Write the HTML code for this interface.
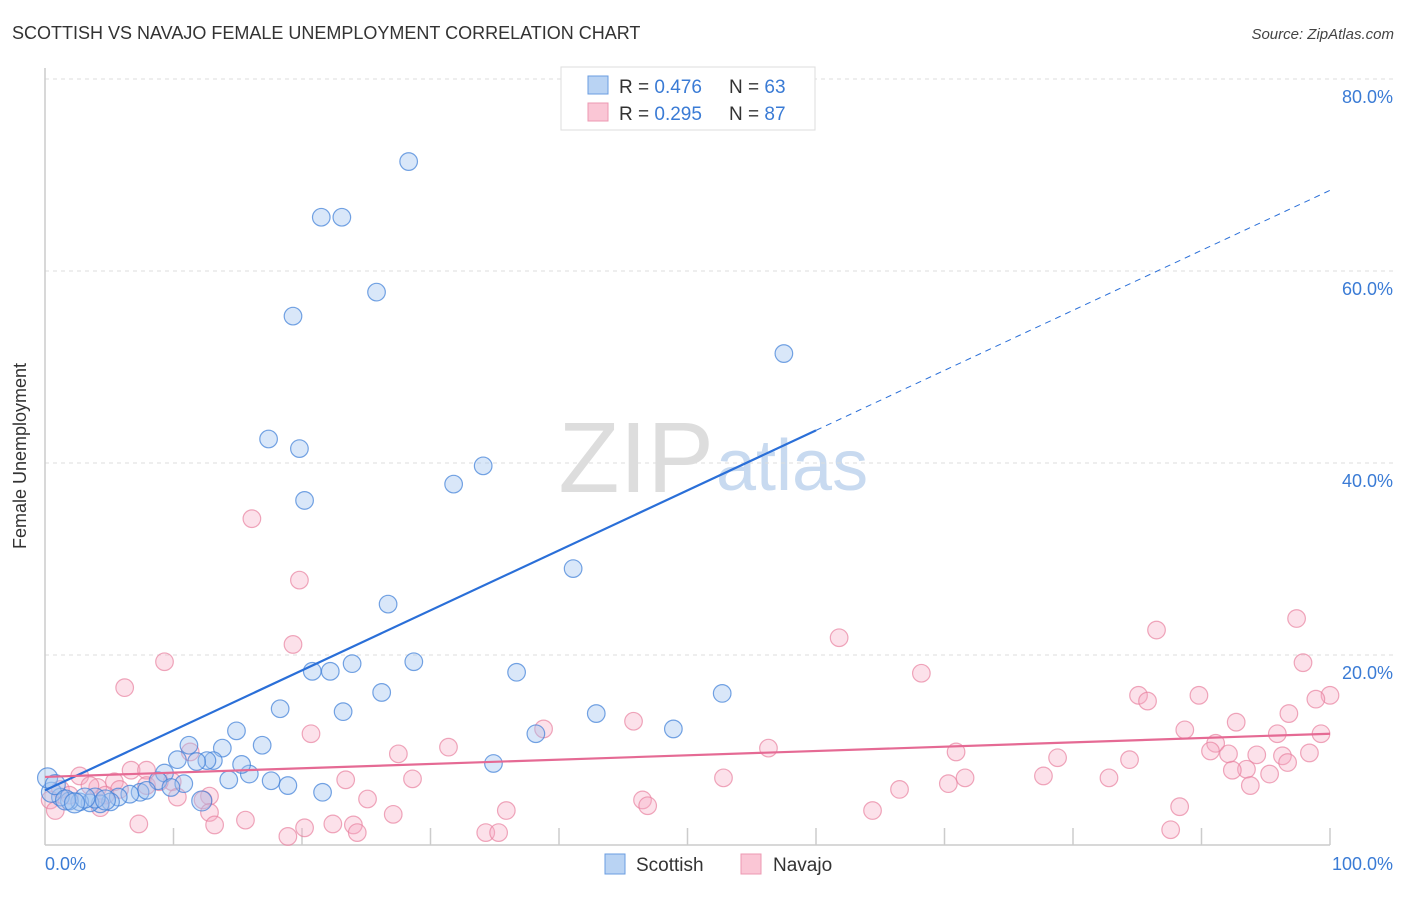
<!DOCTYPE html>
<html><head><meta charset="utf-8"><style>
body{margin:0;background:#fff;font-family:"Liberation Sans",sans-serif}
svg text{font-family:"Liberation Sans",sans-serif}
</style></head><body>
<svg width="1406" height="892" viewBox="0 0 1406 892">
<text x="12" y="39" font-size="18" fill="#333">SCOTTISH VS NAVAJO FEMALE UNEMPLOYMENT CORRELATION CHART</text>
<text x="1394" y="39" font-size="15" fill="#444" font-style="italic" text-anchor="end">Source: ZipAtlas.com</text>
<text x="714" y="492" font-size="100" fill="#ddd" text-anchor="end" font-family="Liberation Serif">ZIP</text>
<text x="716" y="490" font-size="72" fill="#c8daf0">atlas</text>
<g id="grid"></g>
<line x1="45" y1="68" x2="45" y2="845" stroke="#ccc" stroke-width="1.5"/>
<line x1="45" y1="845" x2="1330" y2="845" stroke="#ccc" stroke-width="1.5"/>
<g id="ticks"></g>
<text x="26" y="456" font-size="18" fill="#333" transform="rotate(-90 26 456)" text-anchor="middle">Female Unemployment</text>
<text x="45" y="870" font-size="18" fill="#3a7bd5">0.0%</text>
<text x="1393" y="870" font-size="18" fill="#3a7bd5" text-anchor="end">100.0%</text>
<g id="pts"></g>
<g id="lines"></g>
<g>
<rect x="561" y="67" width="254" height="63" fill="#fff" stroke="#ddd"/>
<rect x="588" y="76" width="20" height="18" fill="#b9d3f3" stroke="#6a9de0"/>
<rect x="588" y="103" width="20" height="18" fill="#fac6d5" stroke="#ec98b2"/>
<text x="619" y="93" font-size="19" fill="#333">R = <tspan fill="#3a7bd5">0.476</tspan></text>
<text x="729" y="93" font-size="19" fill="#333">N = <tspan fill="#3a7bd5">63</tspan></text>
<text x="619" y="120" font-size="19" fill="#333">R = <tspan fill="#3a7bd5">0.295</tspan></text>
<text x="729" y="120" font-size="19" fill="#333">N = <tspan fill="#3a7bd5">87</tspan></text>
</g>
<g>
<rect x="605" y="854" width="20" height="20" fill="#b9d3f3" stroke="#6a9de0"/>
<text x="636" y="871" font-size="19" fill="#333">Scottish</text>
<rect x="741" y="854" width="20" height="20" fill="#fac6d5" stroke="#ec98b2"/>
<text x="773" y="871" font-size="19" fill="#333">Navajo</text>
</g>
</svg>
<script>
const yTicks=[20,40,60,80];
const xTicks=[10,20,30,40,50,60,70,80,90,100];
const scotX=[28.3,21.5,23.1,25.8,19.3,57.5,17.4,19.8,34.1,31.8,20.2,41.1,26.7,28.7,23.9,20.8,22.2,36.7,26.2,52.7,18.3,23.2,42.9,14.9,48.9,38.2,16.9,11.2,13.8,10.3,13.1,12.6,11.8,34.9,9.3,15.9,15.3,14.3,17.6,18.9,10.8,8.8,9.8,21.6,7.4,7.9,6.6,5.7,5.1,4.3,3.5,2.7,1.9,1.2,0.5,0.2,0.8,12.2,3.9,3.1,1.6,2.3,4.7];
const scotY=[71.4,65.6,65.6,57.8,55.3,51.4,42.5,41.5,39.7,37.8,36.1,29.0,25.3,19.3,19.1,18.3,18.3,18.2,16.1,16.0,14.4,14.1,13.9,12.1,12.3,11.8,10.6,10.6,10.3,9.1,9.0,9.0,8.9,8.7,7.7,7.6,8.6,7.0,6.9,6.4,6.6,6.9,6.2,5.7,5.7,5.9,5.5,5.2,4.7,4.5,4.6,4.7,4.8,5.2,5.7,7.2,6.5,4.8,5.1,5.1,4.9,4.6,4.9];
const navX=[16.1,19.8,9.3,19.3,6.2,61.8,97.4,86.5,97.9,68.2,85.1,85.8,89.8,100,98.9,38.8,45.8,20.7,88.7,92.7,96.8,95.9,99.3,56.3,31.4,27.5,78.8,70.9,91.1,90.7,92.1,94.3,98.4,96.3,84.4,93.5,92.4,95.3,77.7,82.8,71.6,52.8,23.4,28.6,70.3,93.8,96.7,66.5,11.3,6.7,7.9,2.7,9.9,5.4,7.9,8.9,12.8,10.3,4.1,3.5,12.3,25.1,46.5,46.9,35.9,88.3,64.4,12.8,27.1,15.6,7.3,13.2,24.0,20.2,22.4,34.3,35.3,18.9,24.3,87.6,1.2,0.4,1.9,5.8,4.7,0.8,4.3];
const navY=[34.2,27.8,19.3,21.1,16.6,21.8,23.8,22.6,19.2,18.1,15.8,15.2,15.8,15.8,15.4,12.3,13.1,11.8,12.2,13.0,13.9,11.8,11.8,10.3,10.4,9.7,9.3,9.9,10.8,10.0,9.7,9.6,9.8,9.5,9.1,8.1,8.0,7.6,7.4,7.2,7.2,7.2,7.0,7.1,6.6,6.4,8.8,6.0,9.9,8.0,8.0,7.4,6.8,6.8,6.4,6.8,5.3,5.2,6.2,6.4,4.9,5.0,4.9,4.3,3.8,4.2,3.8,3.6,3.4,2.8,2.4,2.3,2.3,2.0,2.4,1.5,1.5,1.1,1.5,1.8,6.0,4.9,5.4,6.0,5.4,3.8,4.1];
const blueFit=[5.9,43.4];
const pinkFit=[7.3,11.8];
const X=v=>45+v*12.85, Y=v=>847-v*9.6;
const NS="http://www.w3.org/2000/svg";
function mk(p,t,a){const e=document.createElementNS(NS,t);for(const k in a)e.setAttribute(k,a[k]);p.appendChild(e);return e;}
const grid=document.getElementById('grid');
yTicks.forEach(t=>{
 const l=mk(grid,'line',{x1:45,x2:1393,y1:Y(t),y2:Y(t),stroke:'#ddd','stroke-dasharray':'4,4'});
 
 
 const tx=mk(grid,'text',{x:1393,y:Y(t)+24,'font-size':18,fill:'#3a7bd5','text-anchor':'end'});
 tx.textContent=t.toFixed(1)+'%';
 
 
});
const ticks=document.getElementById('ticks');
xTicks.forEach(t=>{
 const l=mk(ticks,'line',{x1:X(t),x2:X(t),y1:828,y2:845,stroke:'#ccc','stroke-width':1.5});
 
 
});
const pts=document.getElementById('pts');
navX.forEach((v,i)=>{
 const c=mk(pts,'circle',{cx:X(v),cy:Y(navY[i]),r:8.8,fill:'rgba(246,170,195,0.35)',stroke:'rgba(232,130,160,0.7)','stroke-width':1.2});
 
 
});
scotX.forEach((v,i)=>{
 const c=mk(pts,'circle',{cx:X(v),cy:Y(scotY[i]),r:i>=54?10:8.8,fill:'rgba(160,196,240,0.4)',stroke:'rgba(60,125,215,0.7)','stroke-width':1.2});
 
 
});
const lines=document.getElementById('lines');
const slope=(blueFit[1]-blueFit[0])/60;
let e=mk(lines,'line',{x1:X(0),y1:Y(blueFit[0]),x2:X(60),y2:Y(blueFit[1]),stroke:'#2a6fd8','stroke-width':2.2});


e=mk(lines,'line',{x1:X(60),y1:Y(blueFit[1]),x2:X(100),y2:Y(blueFit[0]+slope*100),stroke:'#2a6fd8','stroke-width':1,'stroke-dasharray':'6,5'});


e=mk(lines,'line',{x1:X(0),y1:Y(pinkFit[0]),x2:X(100),y2:Y(pinkFit[1]),stroke:'#e56a94','stroke-width':2.2});


</script>
</body></html>
